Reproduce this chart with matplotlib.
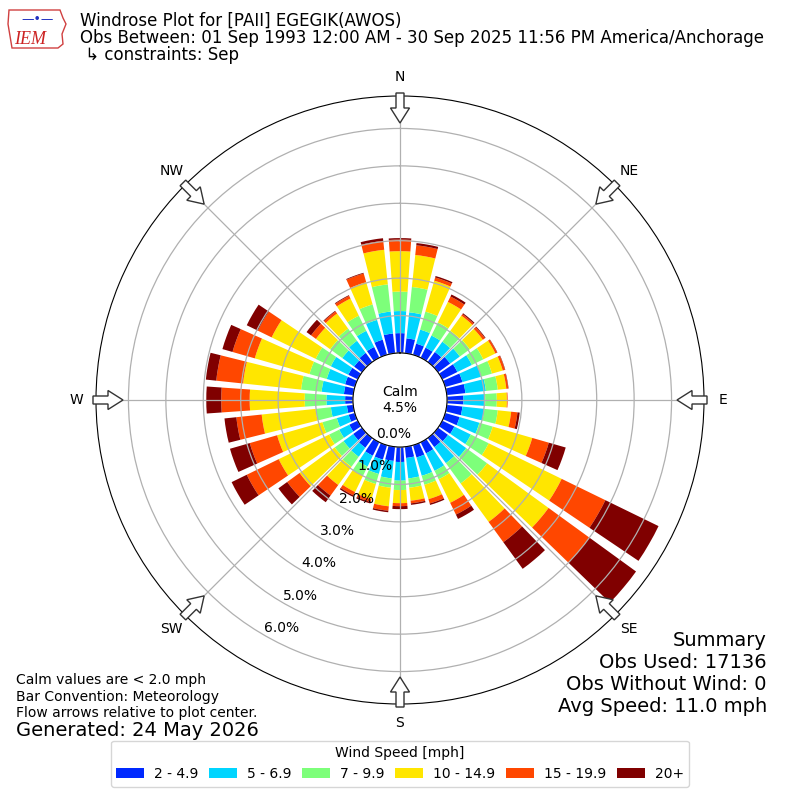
import numpy as np
import matplotlib
matplotlib.use("Agg")
import matplotlib.pyplot as plt
from matplotlib.patches import FancyArrow, Patch, Polygon


# direction bins (degrees, meteorological) and speed bins
directions = np.arange(0, 360, 10)
speed_labels = ["2 - 4.9", "5 - 6.9", "7 - 9.9", "10 - 14.9", "15 - 19.9", "20+"]

spd_2_5 = [0.53, 0.40, 0.31, 0.30, 0.33, 0.40, 0.45, 0.48, 0.50, 0.44, 0.42, 0.40,
           0.36, 0.33, 0.30, 0.33, 0.34, 0.30, 0.40, 0.38, 0.40, 0.40, 0.32, 0.29,
           0.25, 0.17, 0.17, 0.21, 0.25, 0.27, 0.28, 0.26, 0.30, 0.32, 0.42, 0.53]
spd_5_7 = [0.59, 0.70, 0.39, 0.36, 0.34, 0.32, 0.43, 0.52, 0.55, 0.58, 0.59, 0.55,
           0.49, 0.60, 0.53, 0.52, 0.51, 0.55, 0.50, 0.47, 0.40, 0.32, 0.30, 0.32,
           0.30, 0.33, 0.43, 0.50, 0.60, 0.51, 0.52, 0.39, 0.40, 0.48, 0.55, 0.59]
spd_7_10 = [0.52, 0.68, 0.50, 0.39, 0.36, 0.33, 0.34, 0.30, 0.32, 0.31, 0.36, 0.37,
            0.53, 0.69, 0.67, 0.25, 0.25, 0.25, 0.25, 0.25, 0.28, 0.28, 0.33, 0.29,
            0.30, 0.40, 0.41, 0.58, 0.55, 0.48, 0.45, 0.40, 0.40, 0.45, 0.43, 0.73]
spd_10_15 = [1.08, 0.86, 0.86, 0.61, 0.50, 0.43, 0.36, 0.30, 0.23, 0.27, 0.36, 1.10,
             2.17, 2.03, 1.27, 0.70, 0.40, 0.35, 0.35, 0.50, 0.42, 0.48, 0.60, 1.16,
             1.50, 1.26, 1.45, 1.47, 1.56, 1.52, 1.31, 0.47, 0.50, 0.51, 0.62, 0.93]
spd_15_20 = [0.31, 0.26, 0.09, 0.16, 0.05, 0.07, 0.05, 0.06, 0.05, 0.02, 0.17, 0.46,
             1.30, 1.35, 0.67, 0.35, 0.12, 0.07, 0.08, 0.12, 0.08, 0.10, 0.35, 0.41,
             0.95, 0.76, 0.68, 0.76, 0.72, 0.62, 0.41, 0.16, 0.07, 0.08, 0.24, 0.24]
spd_20 = [0.04, 0.06, 0.04, 0.06, 0.03, 0.02, 0.01, 0.01, 0.01, 0.00, 0.06, 0.47,
          1.58, 1.54, 0.88, 0.13, 0.04, 0.04, 0.08, 0.04, 0.04, 0.04, 0.22, 0.29,
          0.45, 0.55, 0.32, 0.40, 0.28, 0.28, 0.33, 0.15, 0.02, 0.02, 0.02, 0.07]

rticks = [0, 1, 2, 3, 4, 5, 6]
compass = ["N", "NE", "E", "SE", "S", "SW", "W", "NW"]
calm_pct = 4.5

series = [spd_2_5, spd_5_7, spd_7_10, spd_10_15, spd_15_20, spd_20]
colors = plt.cm.jet(np.linspace(0, 1, 7)[1:])

fig = plt.figure(figsize=(8, 8), dpi=100)
ax = fig.add_axes([0.12, 0.12, 0.76, 0.76], projection="polar")
ax.set_theta_zero_location("N")
ax.set_theta_direction(-1)

theta = np.radians(directions)
bottom = np.zeros(len(directions))
for vals, c in zip(series, colors):
    vals = np.array(vals)
    ax.bar(theta, vals, width=np.radians(8), bottom=bottom, color=c,
           linewidth=0, zorder=1)
    bottom += vals

rmax = bottom.max() * 1.05
ax.set_ylim(0, rmax)
ax.set_rorigin(-rmax * 0.183)

ax.set_xticks(np.radians(np.arange(0, 360, 45)))
ax.set_xticklabels(compass, fontsize=10)
ax.set_yticks(rticks)
ax.set_yticklabels([])
ax.grid(True, color="#b0b0b0", linewidth=0.9)
for t in rticks:
    ax.text(np.radians(210), t, "%.1f%%" % t, ha="left", va="bottom",
            fontsize=10, zorder=5)

ax.text(0.5, 0.5, "Calm\n%.1f%%" % calm_pct, transform=ax.transAxes,
        ha="center", va="center", fontsize=10, linespacing=1.1)

# flow arrows on the outer ring
for b in np.radians(np.arange(0, 360, 45)):
    sx, sy = np.sin(b), np.cos(b)
    x0 = 0.5 + 307 / 800 * sx
    y0 = 0.5 + 307 / 800 * sy
    arr = FancyArrow(x0, y0, -30 / 800 * sx, -30 / 800 * sy, width=8 / 800,
                     head_width=19 / 800, head_length=15 / 800,
                     length_includes_head=True, transform=fig.transFigure,
                     facecolor="white", edgecolor="#333333", linewidth=1,
                     zorder=10)
    fig.patches.append(arr)

# titles
fig.text(80 / 800, 1 - 21 / 800, "Windrose Plot for [PAII] EGEGIK(AWOS)",
         fontsize=12, va="center")
fig.text(80 / 800, 1 - 38 / 800,
         "Obs Between: 01 Sep 1993 12:00 AM - 30 Sep 2025 11:56 PM America/Anchorage",
         fontsize=12, va="center")
fig.text(80 / 800, 1 - 55 / 800, " \u21b3 constraints: Sep", fontsize=12, va="center")

# logo
iowa = Polygon([[9, 10], [60, 10], [63, 18], [66, 24], [62, 34], [63, 44],
                [58, 48], [12, 48], [10, 36], [8, 24]], closed=True,
               facecolor="white", edgecolor="#d04040", linewidth=1)
iowa.set_transform(fig.dpi_scale_trans)
iowa.set_xy(np.array(iowa.get_xy()) / 100.0 * np.array([1, -1]) + np.array([0, 8]))
fig.patches.append(iowa)
fig.text(30 / 800, 1 - 39 / 800, "IEM", fontsize=13, color="#cc2222",
         family="Liberation Serif", style="italic", ha="center", va="center")
fig.text(38 / 800, 1 - 20 / 800, "\u2014\u2022\u2014", fontsize=9, color="#2030c0",
         ha="center", va="center")

# notes
fig.text(16 / 800, 1 - 680 / 800, "Calm values are < 2.0 mph", fontsize=10, va="center")
fig.text(16 / 800, 1 - 697 / 800, "Bar Convention: Meteorology", fontsize=10, va="center")
fig.text(16 / 800, 1 - 713 / 800, "Flow arrows relative to plot center.", fontsize=10,
         va="center")
fig.text(16 / 800, 1 - 730 / 800, "Generated: 24 May 2026", fontsize=14, va="center")

summary = ["Summary", "Obs Used: 17136", "Obs Without Wind: 0", "Avg Speed: 11.0 mph"]
for i, s in enumerate(summary):
    fig.text(767 / 800, 1 - (640 + 22 * i) / 800, s, fontsize=14, ha="right",
             va="center")

handles = [Patch(facecolor=c) for c in colors]
fig.legend(handles, speed_labels, loc="lower center", bbox_to_anchor=(0.5, 0.008),
           ncol=6, title="Wind Speed [mph]", fontsize=10, title_fontsize=10,
           handlelength=2.0, handletextpad=0.7, columnspacing=0.8)

fig.savefig("out.png", dpi=100)
